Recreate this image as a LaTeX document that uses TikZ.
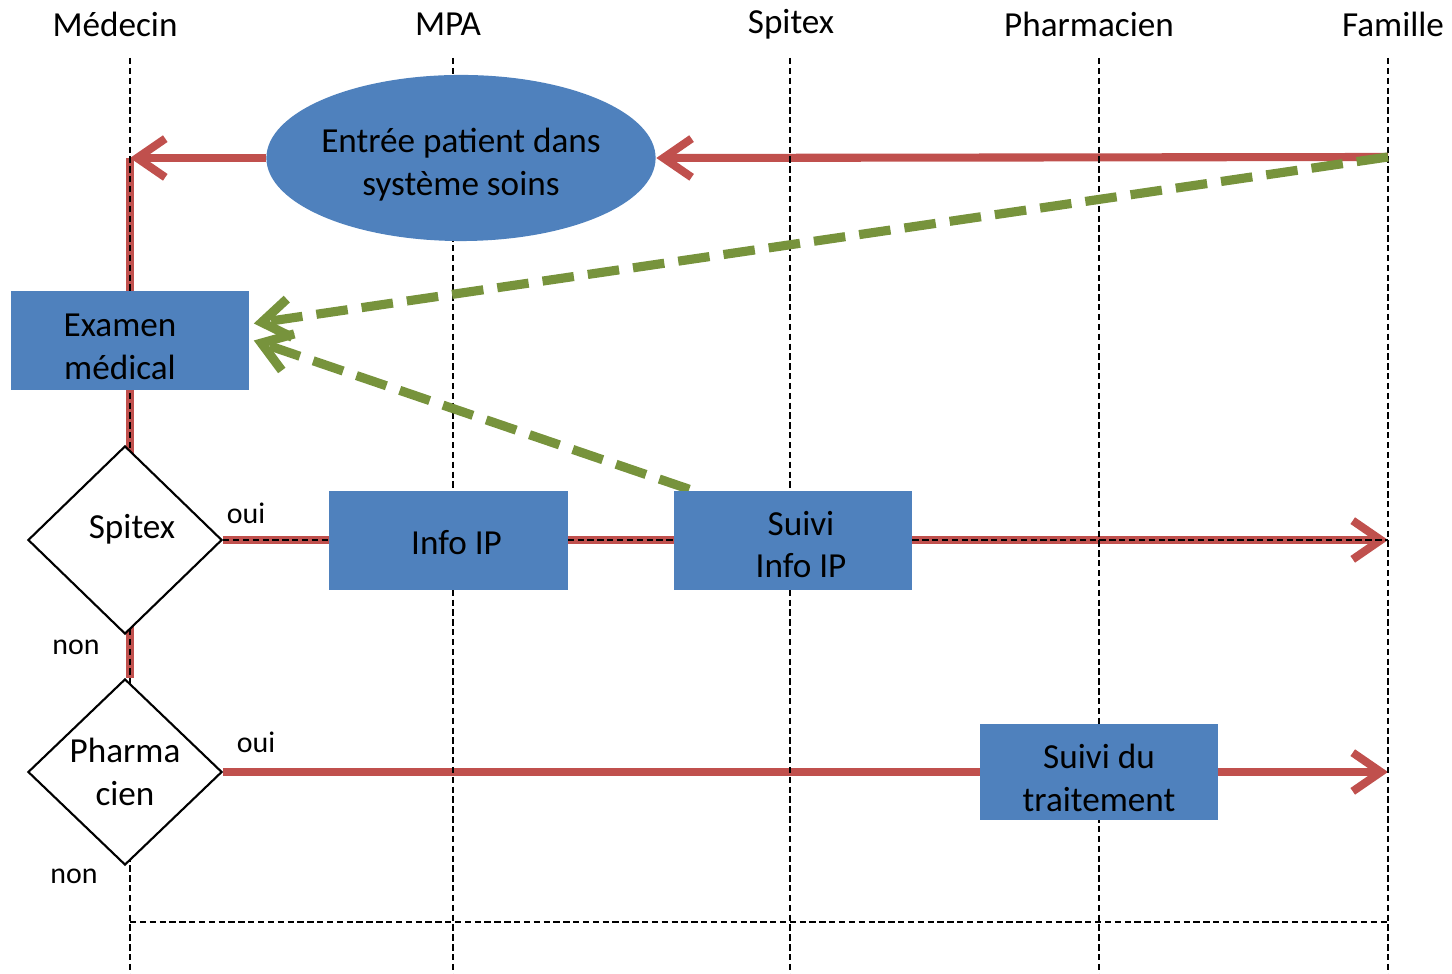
\documentclass[tikz,border=0pt]{standalone}
\usepackage{fontspec}
\setmainfont{Carlito}
\usetikzlibrary{shapes.geometric,arrows.meta,backgrounds,calc}
\definecolor{boxblue}{HTML}{4F81BD}
\definecolor{flowred}{HTML}{C0504D}
\definecolor{linkgreen}{HTML}{77933C}

\begin{document}
\begin{tikzpicture}[x=0.01cm,y=-0.01cm,
    every node/.style={font=\fontsize{10}{12.2}\selectfont},
    every label/.style={align=center,inner sep=0pt},
    box/.style={fill=boxblue,minimum width=2.38cm,minimum height=0.99cm,align=center,inner sep=0pt},
    choice/.style={diamond,draw,fill=white,line width=0.6pt,minimum width=1.94cm,minimum height=1.88cm,inner sep=0pt,align=center},
    small/.style={font=\fontsize{8.5}{10}\selectfont},
    lane/.style={line width=0.5pt,dash pattern=on 1.8pt off 1pt},
    flow/.style={flowred,line width=2.3pt},
    flowarrow/.style={flow,-{Straight Barb[length=8pt,width=11pt]}},
    feedback/.style={linkgreen,line width=2.6pt,dash pattern=on 9pt off 4pt,-{Straight Barb[length=8pt,width=11pt]}}]
    \useasboundingbox (0,0) rectangle (1452,974);

      % Headers
      \node (hmed) at (115,24) {Médecin};
      \node (hmpa) at (448,24) {MPA};
      \node (hspi) at (791,24) {Spitex};
      \node (hpha) at (1089,24) {Pharmacien};
      \node (hfam) at (1393,24) {Famille};

      % Anchor points on the lanes
      \coordinate (medin) at (130,158);
      \coordinate (famin) at (1388,157);
      \coordinate (famspi) at (1388,540);
      \coordinate (fampha) at (1388,772);

      % Steps
      \node[ellipse,fill=boxblue,minimum width=3.89cm,minimum height=1.66cm,inner sep=0pt,
        label={[yshift=-0.07cm]center:{Entrée patient dans\\système soins}}] (entree) at (461,158) {};
      \node[box,label={[xshift=-0.1cm,yshift=-0.06cm]center:{Examen\\médical}}] (examen) at (130,340.5) {};
      \node[box,label={[xshift=0.08cm,yshift=-0.02cm]center:{Info IP}}] (infoip) at (448.5,540.5) {};
      \node[box,label={[xshift=0.08cm,yshift=-0.04cm]center:{Suivi\\Info IP}}] (suivi) at (793,540.5) {};
      \node[box,minimum height=0.96cm,label={[yshift=-0.06cm]center:{Suivi du\\traitement}}] (traitement) at (1099,772) {};

      % Decisions
      \node[choice,label={[xshift=0.07cm,yshift=0.11cm]center:Spitex}] (spitex) at (125,540) {};
      \node[choice,minimum height=1.86cm,label={center:{Pharma\\cien}}] (pharma) at (125,772) {};

      % Answers
      \node[small] (oui1) at (246,513) {oui};
      \node[small] (non1) at (76,647) {non};
      \node[small] (oui2) at (256,742) {oui};
      \node[small] (non2) at (74,876) {non};

      \begin{scope}[on background layer]
        % Main flow
        \draw[flowarrow] (famin) -- (entree.east);
        \draw[flowarrow] (entree.west) -- (medin);
        \draw[flow] (medin) -- (medin |- pharma.north);
        \draw[flowarrow] (spitex.east) -- (famspi);
        \draw[flowarrow] (pharma.east) -- (fampha);

        % Lanes
        \draw[lane] (130,58) -- (130,974);
        \draw[lane] (453,58) -- (453,974);
        \draw[lane] (790,58) -- (790,974);
        \draw[lane] (1099,58) -- (1099,974);
        \draw[lane] (1388,58) -- (1388,974);
        \draw[lane] (spitex.east) -- (famspi);
        \draw[lane] (130,922) -- (1388,922);

        % Feedback
        \draw[feedback] (famin) -- ($(examen.east)+(4,-17)$);
        \draw[feedback] ($(suivi.north west)+(16,-1)$) -- ($(examen.east)+(4,0)$);
      \end{scope}
  \end{tikzpicture}
\end{document}
